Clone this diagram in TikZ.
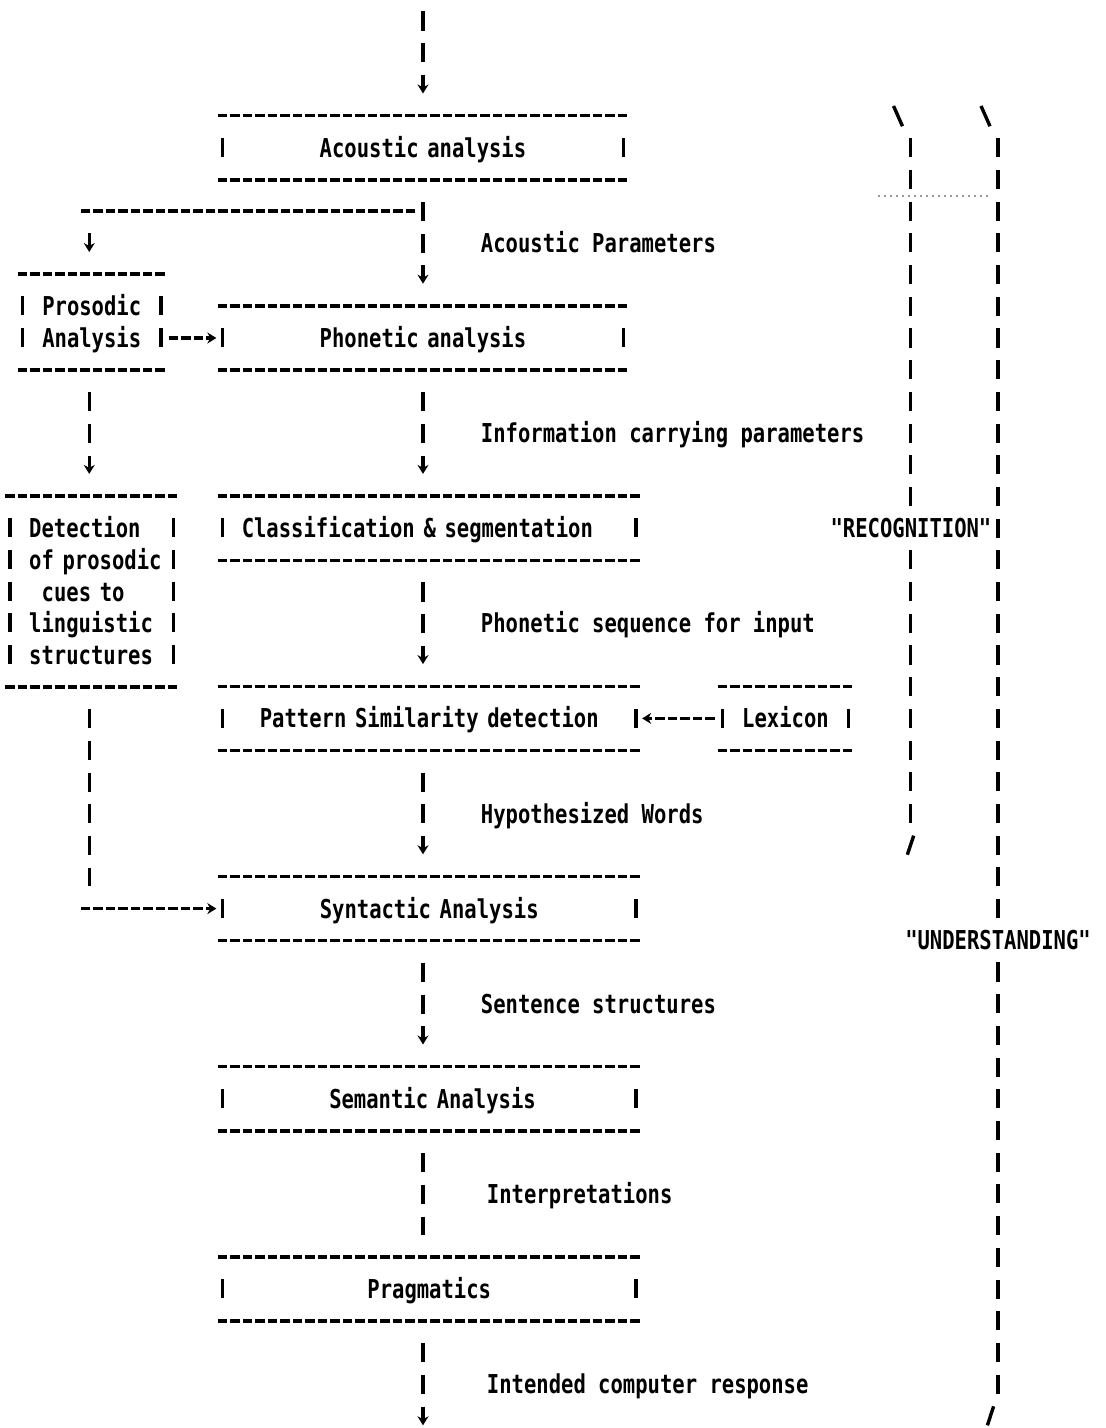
\documentclass[tikz,border=0pt]{standalone}
\usepackage{fontspec}
\newfontfamily\dotfont{DejaVu Sans Mono}[FakeStretch=0.79]
\usetikzlibrary{arrows.meta}
\tikzset{
  dottext/.style={font=\dotfont\bfseries\fontsize{13pt}{15.85pt}\selectfont, text height=9.5pt, text depth=0pt, inner sep=0pt},
  boxnode/.style={dottext, align=center},
  elabel/.style={dottext, anchor=west, xshift=28.125pt},
  hdash/.style={line width=1.7pt, dash pattern=on 4.75pt off 1.5pt, dash phase=5.5pt},
  vdash/.style={line width=1.7pt, dash pattern=on 9.51pt off 6.34pt},
  vconn/.style={vdash, shorten <=11.1pt, shorten >=11.1pt},
  arr/.style={-{Stealth[length=4.5pt,width=5.5pt]}},
  slashline/.style={line width=1.7pt},
}
\newcommand\asciibox[7]{%
  \pgfmathsetlengthmacro\abw{(#3-#2+1)*6.25pt}%
  \pgfmathsetlengthmacro\abh{(#5-#4)*15.85pt}%
  \node[boxnode,minimum width=\abw,text width=\abw,minimum height=\abh,#6] (#1) at ({(#2+#3)/2},{(#4+#5)/2}) {#7};
  \draw[hdash] (#1.north west) -- (#1.north east);
  \draw[hdash] (#1.south west) -- (#1.south east);
  \draw[vdash] ([xshift=3.125pt,yshift=-11.1pt]#1.north west) -- ([xshift=3.125pt,yshift=11.1pt]#1.south west);
  \draw[vdash] ([xshift=-3.125pt,yshift=-11.1pt]#1.north east) -- ([xshift=-3.125pt,yshift=11.1pt]#1.south east);
}
\begin{document}
\begin{tikzpicture}[x=6.25pt,y=-15.85pt]
\fill[white] (-1.84,-0.662) rectangle (86.56,44.385);
\useasboundingbox (-1.84,-0.662) rectangle (86.56,44.385);
\coordinate (spine) at (32,0);
\coordinate (in) at (32,-0.3);
\coordinate (out) at (32,45);
\coordinate (branch) at (5.3,6);
\coordinate (tap) at (31.5,6);
\coordinate (dturn) at (5.3,28);

\asciibox{acoustic}{16}{48}{3}{5}{}{Acoustic analysis}
\asciibox{phonetic}{16}{48}{9}{11}{}{Phonetic analysis}
\asciibox{prosodic}{0}{11}{8}{11}{text depth=15.85pt}{Prosodic\\Analysis}
\asciibox{classif}{16}{49}{15}{17}{align=left}{\hspace*{12.5pt}Classification \& segmentation}
\asciibox{detect}{-1}{12}{15}{21}{align=left,text depth=63.4pt}{\hspace*{12.5pt}Detection\\\hspace*{12.5pt}of prosodic\\\hspace*{18.75pt}cues to\\\hspace*{12.5pt}linguistic\\\hspace*{12.5pt}structures}
\asciibox{pattern}{16}{49}{21}{23}{}{Pattern Similarity detection}
\asciibox{lexicon}{56}{66}{21}{23}{}{Lexicon}
\asciibox{syntactic}{16}{49}{27}{29}{}{Syntactic Analysis}
\asciibox{semantic}{16}{49}{33}{35}{align=left}{\hspace*{56.25pt}Semantic Analysis}
\asciibox{pragmatics}{16}{49}{39}{41}{}{Pragmatics}

\draw[vdash,arr,shorten >=11.1pt] (in) -- (acoustic.north);
\draw[vconn,arr] (acoustic.south -| spine) -- node[elabel]{Acoustic Parameters} (phonetic.north -| spine);
\draw[hdash] ([xshift=-5pt]branch) -- (tap);
\draw[vconn,arr] (branch) -- (prosodic.north -| branch);
\draw[hdash,arr] (prosodic.east |- phonetic.west) -- (phonetic.west);
\draw[vconn,arr] (prosodic.south -| branch) -- (detect.north -| branch);
\draw[vconn,arr] (phonetic.south -| spine) -- node[elabel]{Information carrying parameters} (classif.north -| spine);
\draw[vconn,arr] (classif.south -| spine) -- node[elabel]{Phonetic sequence for input} (pattern.north -| spine);
\draw[hdash,arr] (lexicon.west) -- (pattern.east);
\draw[vconn,arr] (pattern.south -| spine) -- node[elabel]{Hypothesized Words} (syntactic.north -| spine);
\draw[vconn] (detect.south -| dturn) -- (dturn);
\draw[hdash,arr] ([xshift=-5pt]dturn) -- (syntactic.west);
\draw[vconn,arr] (syntactic.south -| spine) -- node[elabel]{Sentence structures} (semantic.north -| spine);
\draw[vconn] (semantic.south -| spine) -- node[elabel,xshift=3pt]{Interpretations} (pragmatics.north -| spine);
\draw[vconn,arr] (pragmatics.south -| spine) -- node[elabel,xshift=3pt]{Intended computer response} (out);

% right-hand brackets
\draw[slashline] (69.64,2.68) -- (70.36,3.32);
\draw[slashline] (76.64,2.68) -- (77.36,3.32);
\draw[vdash] (71,3.7) -- (71,15.3);
\draw[vdash] (71,16.7) -- (71,25.3);
\draw[slashline] (70.75,26.3) -- (71.25,25.7);
\draw[vdash] (78,3.7) -- (78,28.3);
\draw[vdash] (78,29.7) -- (78,43.3);
\draw[slashline] (77.15,44.3) -- (77.65,43.7);
\node[dottext,anchor=east] (recog) at (77.5,16) {"RECOGNITION"};
\node[dottext] (underst) at (78,29) {"UNDERSTANDING"};
\draw[black!40,line width=0.6pt,dash pattern=on 1.2pt off 1.8pt] (68.4,5.52) -- (77.2,5.52);
\end{tikzpicture}
\end{document}
